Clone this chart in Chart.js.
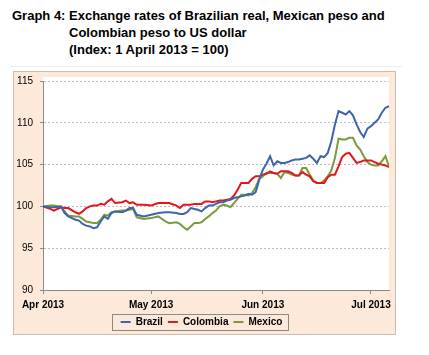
<!DOCTYPE html>
<html><head><meta charset="utf-8">
<script src="https://cdn.jsdelivr.net/npm/chart.js@4.4.0/dist/chart.umd.min.js"></script>
<style>
html,body{margin:0;padding:0;background:#fff;width:429px;height:355px;overflow:hidden;}
#title{position:absolute;left:0;top:7px;width:429px;font-family:"Liberation Sans",Arial,sans-serif;font-weight:bold;font-size:13px;line-height:17px;color:#000;}
#t1{position:absolute;left:12px;top:0;white-space:nowrap}
#t2{position:absolute;left:69px;top:0;white-space:nowrap}
#rule{position:absolute;left:10px;top:66px;width:392px;height:1px;background:#ececec}
#box{position:absolute;left:13px;top:71px;width:383px;height:264px;box-sizing:border-box;border:1px solid #cdbcb0;background:#fde9d9;}
#c{position:absolute;left:0;top:0}
</style></head>
<body>
<div id="title"><div id="t1">Graph 4:</div><div id="t2">Exchange rates of Brazilian real, Mexican peso and<br>Colombian peso to US dollar<br>(Index: 1 April 2013 = 100)</div></div>
<div id="rule"></div>
<div id="box"><canvas id="c" width="381" height="262"></canvas></div>
<script>
// days since 1 April 2013
const days = [0,2,3,5,6,7,9,10,11,12,13,14,15,16,17,18,19,20,22,23,24,25,26,28,30,32,34,35,37,38,39,40,41,42,43,44,45,46,47,48,49,50,51,52,53,54,55,56,57,58,59,60,61,62,63,64,65,66,67,68,69,70,71,72,73,74,75,76,77,78,79,80,81,82,83,84,85,86,87,88,89,90,91,92,93,94,95,96];
const brazil = [100.0,99.9,99.9,100.0,99.2,98.8,98.4,98.3,97.9,97.7,97.6,97.4,97.5,98.2,98.8,98.5,99.2,99.4,99.3,99.5,99.8,99.8,99.0,98.8,99.0,99.2,99.3,99.3,99.2,99.1,99.1,99.3,99.8,99.7,99.6,99.4,99.8,100.1,100.1,100.3,100.5,100.5,100.7,100.8,101.0,101.1,101.2,101.3,101.5,101.4,101.7,103.2,104.4,105.1,106.0,104.9,105.4,105.2,105.2,105.3,105.5,105.6,105.6,105.7,105.8,106.1,105.7,105.2,106.0,105.9,106.4,107.8,109.8,111.4,111.2,111.0,111.4,110.9,109.8,108.9,108.3,109.3,109.6,110.0,110.4,111.2,111.8,112.0];
const colombia = [100.0,99.7,99.5,99.9,99.8,99.8,99.3,99.1,99.4,99.8,100.0,100.1,100.1,100.3,100.2,100.6,100.9,100.4,100.5,100.7,100.4,100.5,100.2,100.2,100.1,100.4,100.4,100.4,100.1,99.8,100.2,100.2,100.2,100.3,100.3,100.3,100.6,100.6,100.5,100.6,100.7,100.7,100.8,100.9,101.3,102.0,102.8,102.8,102.8,103.3,103.6,103.6,103.8,103.9,104.2,104.0,103.9,104.2,104.2,104.2,104.0,103.7,103.7,104.1,103.8,103.6,103.0,102.8,102.8,102.8,103.5,103.8,103.8,104.8,105.9,106.3,106.4,105.8,105.2,105.3,105.5,105.5,105.5,105.3,105.1,105.0,104.9,104.7];
const mexico = [100.0,100.1,100.1,99.9,99.4,98.9,98.8,98.8,98.5,98.2,98.1,98.0,98.0,98.4,99.0,98.9,99.3,99.4,99.5,99.5,99.6,99.7,98.7,98.5,98.6,98.8,98.2,98.0,98.1,97.9,97.5,97.2,97.6,98.0,98.0,98.1,98.5,98.8,99.2,99.5,100.0,100.2,100.1,99.9,100.4,100.9,101.4,101.4,101.3,101.6,102.3,103.3,103.6,104.0,104.0,104.0,103.9,103.4,104.1,104.0,103.8,103.7,103.7,104.6,104.6,103.8,103.1,102.8,102.8,103.1,103.6,104.3,105.8,108.1,108.0,108.0,108.2,108.2,107.3,106.8,106.0,105.3,105.0,104.9,104.9,105.4,106.0,104.8];
const tickDays = [0,30,61,91];
const tickLabels = ['Apr 2013','May 2013','Jun 2013','Jul 2013'];
const seriesNames = ['Brazil','Colombia','Mexico'];
const seriesColors = ['#3d65a8','#e2161c','#7b9a3b'];

const toPts = arr => days.map((d,i)=>({x:d,y:arr[i]}));
const AXIS = '#8a8a8a';

const plotBg = {
  id:'plotBg',
  beforeDraw(chart){
    const {ctx, chartArea:a} = chart;
    ctx.save(); ctx.fillStyle='#ffffff';
    ctx.fillRect(a.left, a.top-4, a.right-a.left, a.bottom-a.top+4);
    ctx.restore();
  }
};
const legendFrame = {
  id:'legendFrame',
  afterDraw(chart){
    const hb = chart.legend && chart.legend.legendHitBoxes;
    if(!hb || !hb.length) return;
    const ctx = chart.ctx;
    const last = hb[hb.length-1];
    const l = hb[0].left - 9, r = last.left + last.width + 5;
    const cy = hb[0].top + hb[0].height/2;
    ctx.save(); ctx.strokeStyle = AXIS; ctx.lineWidth = 1;
    ctx.strokeRect(Math.round(l)+0.5, Math.round(cy-8)+0.5, Math.round(r-l), 16);
    ctx.restore();
  }
};

new Chart(document.getElementById('c'), {
  type:'line',
  data:{datasets:[brazil,colombia,mexico].map((arr,i)=>({
    label:seriesNames[i], data:toPts(arr), borderColor:seriesColors[i], backgroundColor:seriesColors[i],
    borderWidth:2, pointRadius:0, tension:0, fill:false
  }))},
  options:{
    responsive:false, animation:false, devicePixelRatio:1,
    layout:{padding:{left:0,right:6,top:9,bottom:2}},
    plugins:{
      tooltip:{enabled:false},
      legend:{position:'bottom', maxHeight:20,
        labels:{usePointStyle:true, pointStyle:'line', pointStyleWidth:10, padding:5, color:'#000',
          font:{family:'"Liberation Sans", Arial, sans-serif', size:10, weight:'bold'}}}
    },
    scales:{
      x:{type:'linear', min:0, max:96,
        afterBuildTicks(s){ s.ticks = tickDays.map(v=>({value:v})); },
        afterFit(s){ s.height = 22; s.paddingLeft = 0; s.paddingRight = 0; },
        grid:{drawOnChartArea:false, drawTicks:true, tickLength:4, tickColor:AXIS, color:AXIS},
        border:{display:true, color:AXIS, width:1},
        ticks:{autoSkip:false, maxRotation:0, padding:5, color:'#000',
          font:{family:'"Liberation Sans", Arial, sans-serif', size:10, weight:'bold'},
          callback:(v)=>{ const k = tickDays.indexOf(v); return k>=0 ? tickLabels[k] : ''; }}
      },
      y:{min:90, max:115,
        afterFit(s){ s.width = 29; s.paddingTop = 0; s.paddingBottom = 0; },
        grid:{color:'#bdbdbd', lineWidth:1, drawTicks:true, tickLength:3, tickColor:AXIS, tickBorderDash:[]},
        border:{display:true, color:AXIS, width:1, dash:[2,2]},
        ticks:{stepSize:5, padding:7, color:'#000',
          font:{family:'"Liberation Sans", Arial, sans-serif', size:10}}
      }
    }
  },
  plugins:[plotBg, legendFrame]
});
</script>
</body></html>
